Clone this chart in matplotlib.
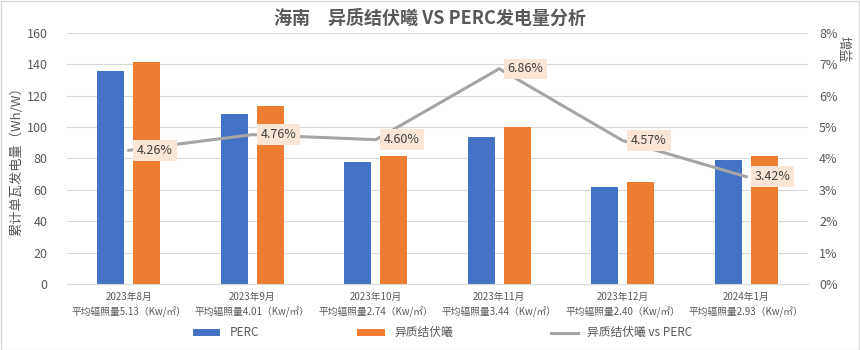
import numpy as np
import matplotlib.pyplot as plt
from matplotlib.patches import Rectangle

plt.rcParams['font.family'] = ['Noto Sans CJK SC', 'DejaVu Sans']

months = ['2023年8月', '2023年9月', '2023年10月', '2023年11月', '2023年12月', '2024年1月']
irradiance = ['5.13', '4.01', '2.74', '3.44', '2.40', '2.93']
perc = [136.0, 108.5, 78.0, 93.7, 62.0, 79.0]
gain = [4.26, 4.76, 4.60, 6.86, 4.57, 3.42]
het = [p * (1 + g / 100) for p, g in zip(perc, gain)]

blue = '#4472C4'
orange = '#ED7D31'
grey_line = '#A5A5A5'
txt = '#595959'

fig = plt.figure(figsize=(8.6, 3.5), dpi=100)
fig.patches.append(Rectangle((0.001, 0.001), 0.998, 0.997, transform=fig.transFigure,
                             fill=False, edgecolor='#D9D9D9', lw=1))
ax = fig.add_axes([67 / 860, 1 - 284 / 350, 741 / 860, 251 / 350])
ax2 = ax.twinx()

x = np.arange(len(months))
w = 0.22
ax.bar(x - 0.145, perc, w, color=blue, label='PERC', zorder=2)
ax.bar(x + 0.145, het, w, color=orange, label='异质结伏曦', zorder=2)
ax.set_xlim(-0.5, len(months) - 0.5)
ax.set_ylim(0, 160)
ax.set_yticks(range(0, 161, 20))
ax.grid(axis='y', color='#D9D9D9', lw=0.8, zorder=0)
ax.set_axisbelow(True)
ax.set_xticks(x)
ax.set_xticklabels([m + '\n平均辐照量' + r + '（Kw/㎡）' for m, r in zip(months, irradiance)],
                   fontsize=7, color=txt, linespacing=1.5)
ax.tick_params(axis='x', length=0, pad=6)
ax.tick_params(axis='y', length=0, labelsize=9, colors=txt, pad=14)
ax.set_ylabel('累计单瓦发电量（Wh/W）', fontsize=9.5, color=txt, labelpad=2)
for s in ['top', 'left', 'right']:
    ax.spines[s].set_visible(False)
ax.spines['bottom'].set_color('#D9D9D9')

g = np.array(gain) / 100
ax2.plot(x, g, color=grey_line, lw=2.2, label='异质结伏曦 vs PERC', zorder=3)
ax2.set_ylim(0, 0.08)
ax2.set_yticks(np.arange(0, 0.081, 0.01))
ax2.set_yticklabels([f'{i}%' for i in range(9)])
ax2.tick_params(axis='y', length=0, labelsize=9, colors=txt, pad=8)
for s in ['top', 'left', 'right', 'bottom']:
    ax2.spines[s].set_visible(False)
ax2.set_ylabel('增益', fontsize=9.5, color=txt, rotation=270, va='center')
ax2.yaxis.set_label_coords(1.0465, 0.935)

for xi, gi in zip(x, gain):
    ax2.annotate(f'{gi:.2f}%', (xi, gi / 100), xytext=(6, 0), textcoords='offset points',
                 ha='left', va='center', fontsize=9, color='#404040',
                 bbox=dict(boxstyle='square,pad=0.3', fc='#FBE5D6', ec='none'), zorder=4)

fig.suptitle('海南　异质结伏曦 VS PERC发电量分析', y=0.975, fontsize=13, fontweight='bold', color=txt)

h1, l1 = ax.get_legend_handles_labels()
h2, l2 = ax2.get_legend_handles_labels()
fig.legend(h1 + h2, l1 + l2, loc='lower center', bbox_to_anchor=(0.515, 0.0), ncol=3,
           frameon=False, fontsize=8.5, labelcolor=txt, handlelength=2.3, handleheight=0.5,
           columnspacing=8.3)

fig.savefig('out.png', dpi=100)
